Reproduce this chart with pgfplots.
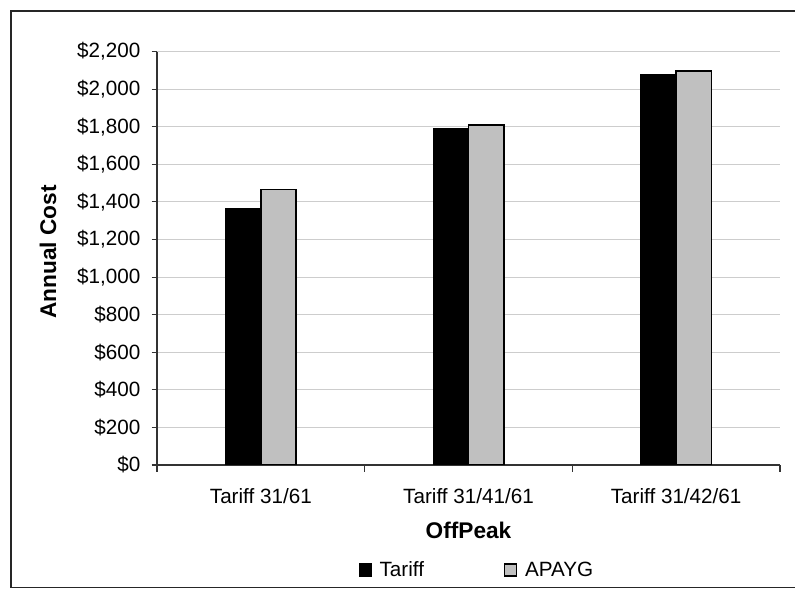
\documentclass[border=0pt]{standalone}
\usepackage{pgfplots}
\pgfplotsset{compat=1.18}
\usepackage{fontspec}
\setmainfont{Liberation Sans}
\definecolor{barGray}{RGB}{192,192,192}
\definecolor{gridGray}{RGB}{205,205,205}
\begin{document}
\begin{tikzpicture}
% picture is 795 x 595 px, 1px = 0.75pt, y measured from the bottom
\path[use as bounding box] (0pt,0pt) rectangle (596.25pt,446.25pt);
\draw[line width=1.1pt, black!85] (600pt,438pt) -- (8.25pt,438pt) -- (8.25pt,5.6pt) -- (600pt,5.6pt);
\begin{axis}[
    at={(117.75pt,97.5pt)}, anchor=south west,
    scale only axis,
    width=467.25pt, height=310.1pt,
    ybar=0pt, bar width=26.4pt,
    xmin=-0.5, xmax=2.5,
    ymin=0, ymax=2200,
    ytick={0,200,...,2200},
    xtick={0,1,2},
    xticklabels={Tariff 31/61, Tariff 31/41/61, Tariff 31/42/61},
    major x tick style={draw=none},
    extra x ticks={-0.5,0.5,1.5,2.5},
    extra x tick labels={},
    extra x tick style={major tick length=5pt, tick align=outside,
      major x tick style={draw=black!80, line width=0.8pt}, grid=none},
    axis x line*=bottom, axis y line*=left,
    axis line style={-, black!80, line width=0.8pt},
    tick align=outside, major tick length=4pt,
    y tick style={black!80, line width=0.8pt},
    ymajorgrids,
    grid style={gridGray, line width=0.8pt},
    /pgf/number format/assume math mode=true,
    yticklabel={\$\pgfmathprintnumber[fixed,1000 sep={,}]{\tick}},
    ticklabel style={font=\fontsize{15.5}{17}\selectfont},
    xticklabel style={yshift=-10pt},
    yticklabel style={xshift=-5pt},
    xlabel={OffPeak}, ylabel={Annual Cost},
    label style={font=\bfseries\fontsize{17}{19}\selectfont},
    xlabel style={at={(axis description cs:0.5,-0.157)}, anchor=center},
    ylabel style={at={(axis description cs:-0.175,0.515)}, anchor=center},
    legend columns=2,
    legend style={at={(axis description cs:0.514,-0.254)}, anchor=center,
      draw=none, fill=none, font=\fontsize{15.5}{17}\selectfont,
      /tikz/every odd column/.append style={column sep=4pt},
      /tikz/every even column/.append style={column sep=58pt}},
    legend image code/.code={%
      \draw[#1, line width=0.8pt] (0pt,-4.5pt) rectangle (9pt,4.5pt);},
]
\addplot[fill=black, draw=black, line width=0.8pt] coordinates {(0,1365) (1,1789) (2,2078)};
\addplot[fill=barGray, draw=black, line width=1.2pt] coordinates {(0,1466) (1,1810) (2,2097)};
\legend{Tariff, APAYG}
\end{axis}
\end{tikzpicture}
\end{document}
